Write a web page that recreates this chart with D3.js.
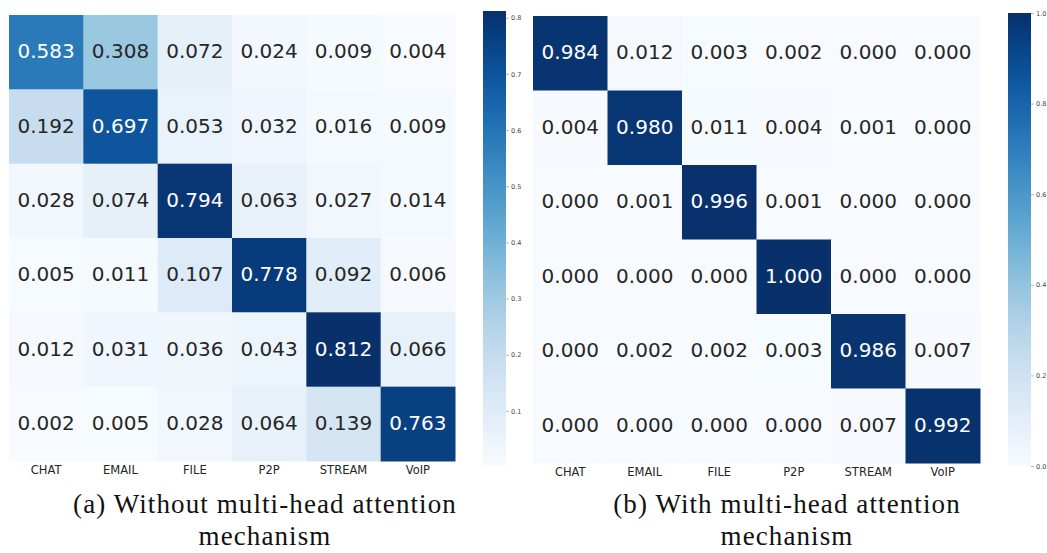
<!DOCTYPE html>
<html><head><meta charset="utf-8">
<script src="https://cdn.jsdelivr.net/npm/d3@7"></script>
<style>body{margin:0;background:#fff}svg{display:block}</style>
</head><body>
<svg id="c" width="1047" height="553"></svg>
<script>
const categories = ["CHAT","EMAIL","FILE","P2P","STREAM","VoIP"];
const valuesA = [
  [0.583,0.308,0.072,0.024,0.009,0.004],
  [0.192,0.697,0.053,0.032,0.016,0.009],
  [0.028,0.074,0.794,0.063,0.027,0.014],
  [0.005,0.011,0.107,0.778,0.092,0.006],
  [0.012,0.031,0.036,0.043,0.812,0.066],
  [0.002,0.005,0.028,0.064,0.139,0.763]
];
const valuesB = [
  [0.984,0.012,0.003,0.002,0.000,0.000],
  [0.004,0.980,0.011,0.004,0.001,0.000],
  [0.000,0.001,0.996,0.001,0.000,0.000],
  [0.000,0.000,0.000,1.000,0.000,0.000],
  [0.000,0.002,0.002,0.003,0.986,0.007],
  [0.000,0.000,0.000,0.000,0.007,0.992]
];
const ticksA = [0.1,0.2,0.3,0.4,0.5,0.6,0.7,0.8];
const ticksB = [0.0,0.2,0.4,0.6,0.8,1.0];
const captionA = ["(a) Without multi-head attention","mechanism"];
const captionB = ["(b) With multi-head attention","mechanism"];

const svg = d3.select("#c");

function lum(c){
  const rgb = d3.rgb(c);
  const f = v => { v/=255; return v<=0.03928 ? v/12.92 : Math.pow((v+0.055)/1.055,2.4); };
  return 0.2126*f(rgb.r)+0.7152*f(rgb.g)+0.0722*f(rgb.b);
}

function panel(cfg){
  const {values,x0,y0,size,cb,domain,ticks,caption,capX,tickFmt,id} = cfg;
  const color = d3.scaleSequential(d3.interpolateBlues).domain(domain);
  const x = d3.scaleBand().domain(d3.range(6)).range([x0,x0+size]);
  const y = d3.scaleBand().domain(d3.range(6)).range([y0,y0+size]);
  const g = svg.append("g");
  const cells = [];
  values.forEach((row,i)=>row.forEach((v,j)=>cells.push({i,j,v})));
  g.selectAll("rect.cell").data(cells).join("rect")
    .attr("x",d=>x(d.j)).attr("y",d=>y(d.i))
    .attr("width",x.bandwidth()+0.5).attr("height",y.bandwidth()+0.5)
    .attr("fill",d=>color(d.v));
  g.selectAll("text.val").data(cells).join("text")
    .attr("x",d=>x(d.j)+x.bandwidth()/2).attr("y",d=>y(d.i)+y.bandwidth()/2)
    .attr("dy","0.3em").attr("text-anchor","middle")
    .attr("font-family","DejaVu Sans").attr("font-size",20)
    .attr("fill",d=>lum(color(d.v))>0.408?"#262626":"#ffffff")
    .text(d=>d.v.toFixed(3));
  // x axis labels
  g.selectAll("text.lab").data(categories).join("text")
    .attr("x",(d,j)=>x(j)+x.bandwidth()/2).attr("y",y0+size+13)
    .attr("text-anchor","middle").attr("font-family","DejaVu Sans")
    .attr("font-size",11.5).attr("fill","#262626").text(d=>d);
  // colorbar
  const cy = d3.scaleLinear().domain(domain).range([cb.y1,cb.y0]);
  const defs = svg.append("defs");
  const grad = defs.append("linearGradient").attr("id",id)
    .attr("x1","0").attr("y1","1").attr("x2","0").attr("y2","0");
  d3.range(0,1.0001,0.05).forEach(t=>{
    grad.append("stop").attr("offset",t).attr("stop-color",d3.interpolateBlues(t));
  });
  g.append("rect").attr("x",cb.x).attr("y",cb.y0).attr("width",cb.w).attr("height",cb.y1-cb.y0)
    .attr("fill",`url(#${id})`);
  const ax = g.append("g").attr("transform",`translate(${cb.x+cb.w},0)`)
    .call(d3.axisRight(cy).tickValues(ticks).tickFormat(d3.format(tickFmt)).tickSize(3).tickPadding(2));
  ax.select(".domain").remove();
  ax.selectAll("line").attr("stroke","#888").attr("stroke-width",0.6);
  ax.selectAll("text").attr("font-family","DejaVu Sans").attr("font-size",6.5).attr("fill","#444");
  // caption
  g.selectAll("text.cap").data(caption).join("text")
    .attr("x",capX).attr("y",(d,k)=>513+k*32)
    .attr("text-anchor","middle").attr("font-family","Liberation Serif, DejaVu Serif, serif")
    .attr("font-size",27).attr("letter-spacing",1.1).attr("fill","#111").text(d=>d);
}

panel({values:valuesA,x0:9,y0:15,size:446,cb:{x:483,w:23,y0:11,y1:466},
  domain:[0.002,0.812],ticks:ticksA,caption:captionA,capX:265,tickFmt:".1f",id:"gA"});
panel({values:valuesB,x0:533,y0:16,size:447,cb:{x:1008,w:23,y0:13,y1:466},
  domain:[0,1],ticks:ticksB,caption:captionB,capX:787,tickFmt:".1f",id:"gB"});
</script>
</body></html>
